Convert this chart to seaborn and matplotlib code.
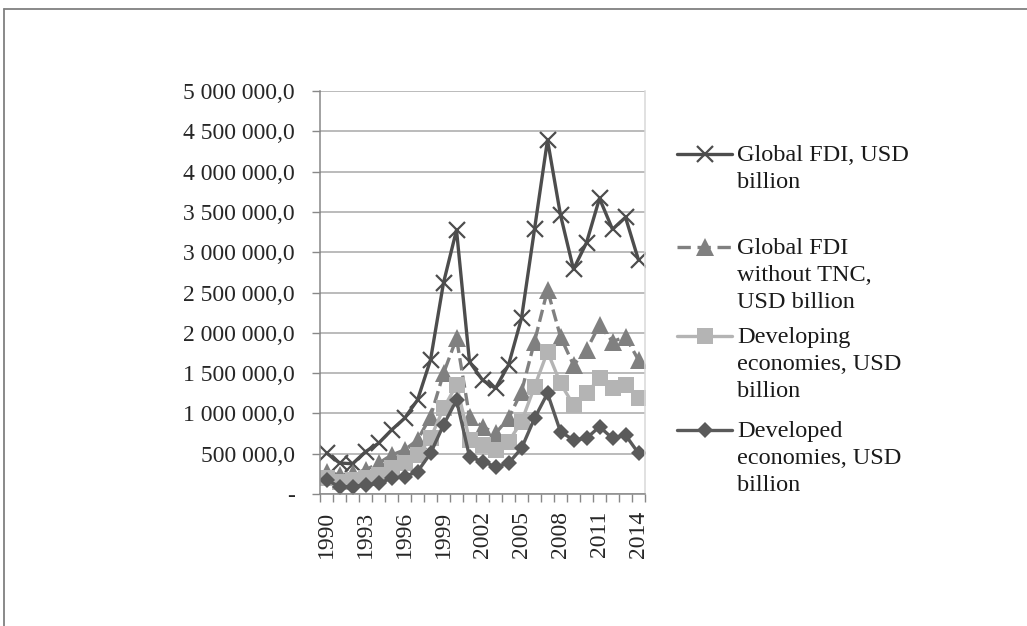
import numpy as np
import pandas as pd
import matplotlib.pyplot as plt
import seaborn as sns
from matplotlib.lines import Line2D
from matplotlib.ticker import FuncFormatter, MultipleLocator

# data (USD billion, as printed on the axis)
years = list(range(1990, 2015))
global_fdi = [509, 385, 375, 525, 629, 794, 939, 1166, 1662, 2620, 3275,
              1641, 1414, 1311, 1600, 2180, 3284, 4392, 3461, 2788, 3118,
              3668, 3284, 3433, 2903]
global_no_tnc = [277, 236, 256, 298, 380, 484, 546, 670, 959, 1497, 1931,
                 959, 835, 753, 939, 1270, 1890, 2531, 1952, 1600, 1787,
                 2097, 1890, 1952, 1662]
developing = [195, 153, 174, 196, 236, 319, 380, 484, 691, 1063, 1352,
              670, 608, 546, 649, 897, 1331, 1766, 1373, 1104, 1249,
              1435, 1311, 1352, 1187]
developed = [174, 91, 91, 112, 133, 195, 215, 277, 505, 856, 1166,
             463, 401, 339, 380, 567, 939, 1249, 773, 670, 691,
             835, 691, 732, 505]

labels = ["Global FDI, USD\nbillion",
          "Global FDI\nwithout TNC,\nUSD billion",
          "Developing\neconomies, USD\nbillion",
          "Developed\neconomies, USD\nbillion"]

df = pd.DataFrame({
    'pos': np.arange(len(years)),
    'g': np.array(global_fdi) * 1000,
    'g2': np.array(global_no_tnc) * 1000,
    'dv': np.array(developing) * 1000,
    'dd': np.array(developed) * 1000,
})

sns.set_style('white')
plt.rcParams['font.family'] = ['Liberation Serif', 'DejaVu Serif']
plt.rcParams['font.size'] = 17

W, H = 1027, 626
fig = plt.figure(figsize=(W / 100, H / 100), dpi=100)
ax = fig.add_axes([320 / W, 1 - 494 / H, 325 / W, 403 / H])

styles = [
    dict(col='g', color='#4d4d4d', marker='x', ms=11, mew=1.6, ls='-', dashes=None),
    dict(col='g2', color='#808080', marker='^', ms=13, mew=0, ls='--', dashes=(4, 2)),
    dict(col='dv', color='#b4b4b4', marker='s', ms=11, mew=0, ls='-', dashes=None),
    dict(col='dd', color='#5a5a5a', marker='D', ms=8.5, mew=0, ls='-', dashes=None),
]

for s in styles:
    kw = dict(color=s['color'], marker=s['marker'], markersize=s['ms'],
              markeredgewidth=s['mew'], markeredgecolor=s['color'],
              linewidth=2.4, linestyle=s['ls'])
    if s['dashes']:
        kw['dashes'] = s['dashes']
    sns.lineplot(data=df, x='pos', y=s['col'], ax=ax, **kw)

ax.set_xlim(-0.5, len(years) - 0.5)
ax.set_ylim(0, 5000000)
ax.yaxis.set_major_locator(MultipleLocator(500000))


def fmt(v, p):
    if v == 0:
        return '-'
    return '{:,.1f}'.format(v).replace(',', ' ').replace('.', ',')


ax.yaxis.set_major_formatter(FuncFormatter(fmt))
ax.grid(axis='y', color='#a8a8a8', linewidth=1.1)
ax.set_axisbelow(True)

ax.set_xticks(range(0, len(years), 3))
ax.set_xticklabels([str(y) for y in years[::3]], rotation=90)
ax.set_xticks(np.arange(-0.5, len(years), 1), minor=True)
ax.tick_params(axis='x', which='major', length=0, pad=12)
ax.tick_params(axis='x', which='minor', length=6, width=1, color='#888888', direction='out', bottom=True)
ax.tick_params(axis='y', length=6, width=1, color='#888888', pad=12, left=True)
ax.set_xlabel('')
ax.set_ylabel('')

ax.spines['top'].set_visible(False)
ax.spines['left'].set_color('#888888')
ax.spines['bottom'].set_color('#888888')
ax.spines['right'].set_color('#d9d9d9')
for side in ['left', 'bottom', 'right']:
    ax.spines[side].set_linewidth(1.1)

# legend built by hand so each handle sits on the first line of its label
rows = [154, 247, 336, 430]
for s, lab, yc in zip(styles, labels, rows):
    yf = 1 - yc / H
    kw = dict(color=s['color'], marker=s['marker'], markersize=s['ms'],
              markeredgewidth=s['mew'], markeredgecolor=s['color'],
              linewidth=2.4, linestyle=s['ls'], markevery=[1])
    if s['dashes']:
        kw['dashes'] = s['dashes']
    fig.add_artist(Line2D([677 / W, 704.5 / W, 732 / W], [yf, yf, yf],
                          transform=fig.transFigure, **kw))
    fig.text(737 / W, 1 - (yc - 9) / H, lab, va='top', ha='left',
             linespacing=1.37, color='#1a1a1a', fontsize=17.5)

# frame of the chart area
fig.add_artist(Line2D([4 / W, 1], [1 - 9 / H, 1 - 9 / H], transform=fig.transFigure,
                      color='#808080', linewidth=1.3))
fig.add_artist(Line2D([4 / W, 4 / W], [0, 1 - 9 / H], transform=fig.transFigure,
                      color='#808080', linewidth=1.3))

fig.savefig('out.png', dpi=100)
